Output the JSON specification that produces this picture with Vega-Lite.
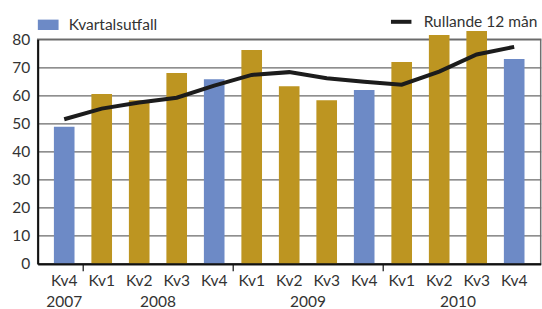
{
  "$schema": "https://vega.github.io/schema/vega-lite/v6.json",
  "width": 503,
  "height": 224.5,
  "autosize": {"type": "none"},
  "padding": {"left": 37.7, "top": 39.3, "right": 1.3, "bottom": 45.2},
  "background": "white",
  "config": {
    "view": {"stroke": "#707070", "strokeWidth": 1.5},
    "font": "Lato",
    "axis": {"labelFont": "Lato", "labelFontSize": 15.5, "labelColor": "#333333"},
    "legend": {"labelFont": "Lato", "labelFontSize": 15.5, "labelColor": "#333333"}
  },
  "data": {
    "values": [
      {"period": "Kv4 2007", "kvartal": "Kv4", "ar": "2007", "utfall": 48.8, "rullande": 51.5},
      {"period": "Kv1 2008", "kvartal": "Kv1", "ar": "2008", "utfall": 60.5, "rullande": 55.3},
      {"period": "Kv2 2008", "kvartal": "Kv2", "ar": "2008", "utfall": 58.3, "rullande": 57.5},
      {"period": "Kv3 2008", "kvartal": "Kv3", "ar": "2008", "utfall": 68.0, "rullande": 59.2},
      {"period": "Kv4 2008", "kvartal": "Kv4", "ar": "2008", "utfall": 65.8, "rullande": 63.5},
      {"period": "Kv1 2009", "kvartal": "Kv1", "ar": "2009", "utfall": 76.2, "rullande": 67.3},
      {"period": "Kv2 2009", "kvartal": "Kv2", "ar": "2009", "utfall": 63.3, "rullande": 68.3},
      {"period": "Kv3 2009", "kvartal": "Kv3", "ar": "2009", "utfall": 58.3, "rullande": 66.1},
      {"period": "Kv4 2009", "kvartal": "Kv4", "ar": "2009", "utfall": 61.9, "rullande": 64.9},
      {"period": "Kv1 2010", "kvartal": "Kv1", "ar": "2010", "utfall": 71.9, "rullande": 63.8},
      {"period": "Kv2 2010", "kvartal": "Kv2", "ar": "2010", "utfall": 81.5, "rullande": 68.5},
      {"period": "Kv3 2010", "kvartal": "Kv3", "ar": "2010", "utfall": 83.0, "rullande": 74.6},
      {"period": "Kv4 2010", "kvartal": "Kv4", "ar": "2010", "utfall": 73.0, "rullande": 77.3}
    ]
  },
  "layer": [
    {
      "mark": {"type": "bar", "width": {"band": 0.55}},
      "encoding": {
        "x": {
          "field": "period", "type": "ordinal", "sort": null,
          "scale": {"type": "band", "paddingInner": 0, "paddingOuter": 0.207},
          "axis": {"title": null, "orient": "bottom", "labelExpr": "substring(datum.value, 0, 3)", "ticks": false, "domainColor": "#111111", "domainWidth": 2, "labelPadding": 10, "labelAngle": 0, "labelOverlap": false, "zindex": 1}
        },
        "y": {
          "field": "utfall", "type": "quantitative",
          "scale": {"domain": [0, 80], "nice": false},
          "axis": {"title": null, "values": [0, 10, 20, 30, 40, 50, 60, 70, 80], "ticks": false, "labelPadding": 8, "labelOverlap": false, "domainColor": "#111111", "domainWidth": 2, "gridColor": "#6a6a6a", "gridWidth": 1.2, "gridOpacity": 1}
        },
        "fill": {
          "field": "kvartal", "type": "nominal",
          "scale": {"domain": ["Kv4", "Kv1", "Kv2", "Kv3"], "range": ["#6d8ac6", "#bd9521", "#bd9521", "#bd9521"]},
          "legend": {"title": null, "values": ["Kv4"], "labelExpr": "'Kvartalsutfall'", "orient": "none", "legendX": 0, "legendY": -25, "symbolType": "M-1,-0.5H1V0.5H-1Z", "symbolSize": 430, "symbolStrokeWidth": 0, "labelOffset": 10}
        }
      }
    },
    {
      "mark": {"type": "line", "strokeWidth": 4, "strokeCap": "butt"},
      "encoding": {
        "x": {
          "field": "period", "type": "ordinal", "sort": null,
          "axis": {
            "title": null, "orient": "bottom", "domain": false, "grid": false, "labelAngle": 0, "labelOverlap": false,
            "bandPosition": 1,
            "labelExpr": "datum.value == 'Kv4 2007' ? '2007' : (substring(datum.value, 0, 3) == 'Kv2' ? substring(datum.value, 4) : '')",
            "labelOffset": {"condition": {"test": "datum.value == 'Kv4 2007'", "value": 0}, "value": 18.75},
            "tickOpacity": {"condition": {"test": "substring(datum.value, 0, 3) == 'Kv4' && datum.value != 'Kv4 2010'", "value": 1}, "value": 0},
            "tickSize": 7, "tickColor": "#111111", "tickWidth": 1.2,
            "labelPadding": 23.5
          }
        },
        "y": {
          "field": "rullande", "type": "quantitative",
          "axis": {"title": null, "values": [0, 10, 20, 30, 40, 50, 60, 70, 80], "ticks": false, "labelPadding": 8, "labelOverlap": false, "domainColor": "#111111", "domainWidth": 2, "gridColor": "#6a6a6a", "gridWidth": 1.2, "gridOpacity": 1}
        },
        "stroke": {
          "datum": "Rullande 12 mån", "type": "nominal",
          "scale": {"range": ["#1c1c1c"]},
          "legend": {"title": null, "orient": "none", "legendX": 351, "legendY": -30, "symbolType": "stroke", "symbolSize": 420, "symbolStrokeWidth": 4, "labelOffset": 10}
        }
      }
    }
  ],
  "resolve": {"axis": {"x": "independent"}}
}
